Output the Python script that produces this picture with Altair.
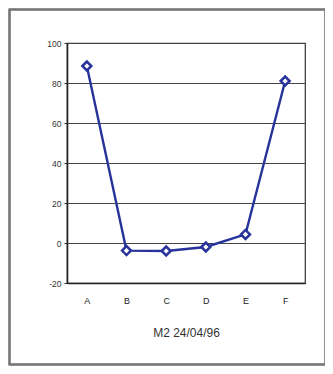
import altair as alt
import pandas as pd

categories = ["A", "B", "C", "D", "E", "F"]
values = [88.5, -3.8, -4.0, -2.0, 4.3, 81.0]
y_ticks = [-20, 0, 20, 40, 60, 80, 100]
title_text = "M2 24/04/96"

df = pd.DataFrame({"cat": categories, "val": values})

FONT = "Liberation Sans"
BLUE = "#27339a"

base = alt.Chart(df).encode(
    x=alt.X("cat:N", sort=categories, scale=alt.Scale(type="point", padding=0.5),
            axis=alt.Axis(title=title_text, labelAngle=0, ticks=False, labelPadding=13,
                          titlePadding=22, titleFontSize=12, titleFontWeight="normal",
                          titleFont=FONT, labelFont=FONT, labelFontSize=9,
                          labelColor="#222", titleColor="#333",
                          domainColor="#222", domainWidth=1.6)),
    y=alt.Y("val:Q", scale=alt.Scale(domain=[-20, 100], nice=False, zero=False),
            axis=alt.Axis(values=y_ticks, title=None, grid=True, gridColor="#444",
                          gridWidth=1, tickSize=3, tickColor="#333", labelPadding=3,
                          labelExpr="'' + datum.value",
                          labelFont=FONT, labelFontSize=8.5, labelColor="#333",
                          domainColor="#222", domainWidth=1.6)),
)

line = base.mark_line(color=BLUE, strokeWidth=2.4)
points = base.mark_point(shape="diamond", size=80, filled=True, fill="white",
                         stroke=BLUE, strokeWidth=2.5, opacity=1)

frame = alt.Chart(df).mark_rect(fill=None, stroke="#777", strokeWidth=1.5).encode(
    x=alt.value(-57.5), x2=alt.value(258.5), y=alt.value(-33.5), y2=alt.value(321.5)
)

chart = alt.layer(frame, line, points).properties(
    width=238, height=240,
    autosize=alt.AutoSizeParams(type="none"),
    padding={"left": 59, "top": 35, "right": 20, "bottom": 83},
    background="white",
).configure_view(stroke="#333", strokeWidth=1.2)

chart.save("out.html", embed_options={"renderer": "svg", "actions": False})
